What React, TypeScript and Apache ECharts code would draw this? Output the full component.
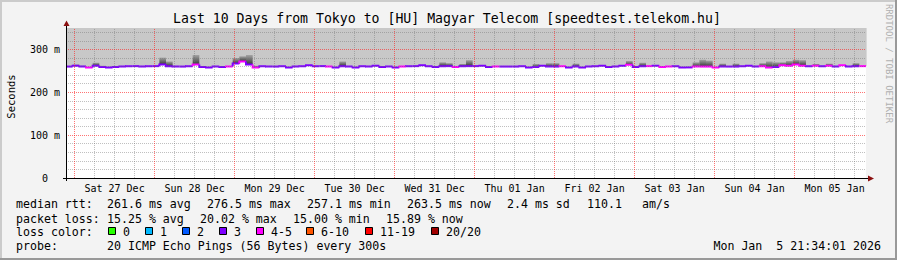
import React, { useEffect, useRef } from 'react';
import * as echarts from 'echarts';

const MONO = '"DejaVu Sans Mono", monospace';

const startHour = -(2 + 34 / 60 + 1 / 3600);
const spanHours = 240;
const bucketHours = 2;
const yMax = 350;

const dayLabels = ['Sat 27 Dec', 'Sun 28 Dec', 'Mon 29 Dec', 'Tue 30 Dec', 'Wed 31 Dec', 'Thu 01 Jan', 'Fri 02 Jan', 'Sat 03 Jan', 'Sun 04 Jan', 'Mon 05 Jan'];
const dayLabelHours = [12, 36, 60, 84, 108, 132, 156, 180, 204, 228];
const dayLineHours = [0, 24, 48, 72, 96, 120, 144, 168, 192, 216];
const yMinorLines = [20, 40, 60, 80, 120, 140, 160, 180, 220, 240, 260, 280, 320, 340];
const yMajorLines = [100, 200, 300];
const yTickValues = [0, 100, 200, 300];

const median = [
  260, 262, 260, 258, 262, 259, 258, 259, 260, 261,
  261, 260, 261, 261, 265, 261, 260, 260, 261, 265,
  259, 258, 260, 259, 260, 267, 272, 265, 258, 261,
  260, 260, 261, 258, 260, 261, 263, 261, 261, 260,
  258, 261, 260, 258, 261, 260, 262, 259, 260, 258,
  260, 261, 261, 263, 261, 259, 261, 261, 259, 261,
  261, 261, 262, 259, 260, 260, 260, 260, 261, 258,
  259, 262, 260, 260, 261, 258, 260, 258, 260, 261,
  262, 259, 260, 262, 264, 259, 261, 261, 262, 259,
  260, 261, 258, 258, 260, 260, 260, 258, 260, 260,
  260, 261, 262, 260, 261, 258, 259, 263, 262, 265,
  262, 261, 262, 261, 262, 260, 263, 260, 261, 261,
];
const smokeTop = [
  260, 265, 262, 258, 269, 262, 258, 259, 260, 261,
  261, 260, 261, 261, 281, 272, 260, 260, 261, 287,
  259, 258, 260, 259, 260, 280, 284, 287, 262, 261,
  260, 260, 261, 258, 260, 261, 263, 261, 261, 260,
  258, 272, 260, 258, 261, 260, 262, 259, 260, 258,
  260, 261, 261, 263, 261, 259, 270, 268, 259, 266,
  275, 261, 262, 259, 260, 260, 260, 260, 261, 258,
  266, 262, 268, 268, 261, 258, 267, 258, 260, 261,
  262, 259, 260, 262, 273, 259, 269, 261, 262, 259,
  260, 261, 258, 258, 270, 276, 274, 258, 267, 260,
  267, 261, 262, 260, 268, 272, 270, 270, 273, 276,
  275, 261, 266, 261, 267, 260, 263, 260, 268, 261,
];
const lost = [
  3, 3, 3, 4, 3, 3, 3, 3, 3, 3,
  3, 3, 3, 3, 3, 3, 3, 3, 3, 4,
  3, 3, 3, 3, 4, 3, 4, 3, 4, 3,
  3, 3, 3, 3, 3, 3, 3, 3, 3, 4,
  3, 3, 3, 3, 3, 3, 3, 3, 3, 3,
  4, 3, 3, 3, 3, 3, 3, 3, 4, 3,
  3, 3, 3, 3, 4, 3, 3, 3, 3, 3,
  3, 3, 3, 3, 4, 3, 3, 3, 3, 3,
  3, 3, 3, 3, 4, 3, 3, 4, 3, 4,
  4, 3, 3, 3, 4, 4, 4, 4, 3, 3,
  3, 3, 3, 3, 4, 4, 3, 4, 4, 4,
  4, 3, 4, 3, 4, 3, 4, 3, 3, 4,
];

const lossLegend = ['0', '1', '2', '3', '4-5', '6-10', '11-19', '20/20'];
const lossColors = ['#26ff00', '#00b8ff', '#0059ff', '#7e00ff', '#ff00ff', '#ff5500', '#ff0000', '#a00000'];
const lossLegendX = [108, 145, 182, 219, 256, 306, 365, 431];

const rttStats = ['261.6 ms avg', '276.5 ms max', '257.1 ms min', '263.5 ms now', '2.4 ms sd', '110.1', 'am/s'];
const rttStatsX = [107, 207, 307, 407, 507, 587, 642];
const lossStats = ['15.25 % avg', '20.02 % max', '15.00 % min', '15.89 % now'];
const lossStatsX = [107, 200, 293, 386];

function lossColor(n: number): string {
  if (n <= 0) return lossColors[0];
  if (n === 1) return lossColors[1];
  if (n === 2) return lossColors[2];
  if (n === 3) return lossColors[3];
  if (n <= 5) return lossColors[4];
  if (n <= 10) return lossColors[5];
  if (n <= 19) return lossColors[6];
  return lossColors[7];
}

function txt(text: string, x: number, y: number, size: number, opts: any = {}) {
  return {
    type: 'text',
    x,
    y,
    z: 20,
    rotation: opts.rotation || 0,
    silent: true,
    style: {
      text,
      x: 0,
      y: 0,
      fill: opts.color || '#000',
      font: `${size}px ${MONO}`,
      fontSize: size,
      fontFamily: MONO,
      align: opts.align || 'left',
      textAlign: opts.align || 'left',
      verticalAlign: 'middle',
      textVerticalAlign: 'middle',
    },
  };
}

export default function App() {
  const ref = useRef<HTMLDivElement>(null);

  useEffect(() => {
    if (!ref.current) return;
    const chart = echarts.init(ref.current, null, { renderer: 'svg' });

    const smokeData = median.map((m, i) => [startHour + i * bucketHours, m, smokeTop[i]]);
    const medianData = median.map((m, i) => [startHour + i * bucketHours, m, lost[i], i > 0 ? median[i - 1] : m]);

    const graphics: any[] = [];
    graphics.push({ type: 'rect', z: 30, silent: true, shape: { x: 0, y: 0, width: 897, height: 2 }, style: { fill: '#cbcbcb' } });
    graphics.push({ type: 'rect', z: 30, silent: true, shape: { x: 0, y: 0, width: 2, height: 260 }, style: { fill: '#cbcbcb' } });
    graphics.push({ type: 'rect', z: 30, silent: true, shape: { x: 0, y: 258, width: 897, height: 2 }, style: { fill: '#999999' } });
    graphics.push({ type: 'rect', z: 30, silent: true, shape: { x: 895, y: 0, width: 2, height: 260 }, style: { fill: '#999999' } });
    graphics.push({ type: 'line', z: 25, silent: true, shape: { x1: 66.5, y1: 181, x2: 66.5, y2: 25 }, style: { stroke: '#000', lineWidth: 1 } });
    graphics.push({ type: 'line', z: 25, silent: true, shape: { x1: 63, y1: 178.5, x2: 869, y2: 178.5 }, style: { stroke: '#000', lineWidth: 1 } });
    graphics.push({ type: 'polygon', z: 26, silent: true, shape: { points: [[63.5, 26], [69.5, 26], [66.5, 20.5]] }, style: { fill: '#8b1010' } });
    graphics.push({ type: 'polygon', z: 26, silent: true, shape: { points: [[868, 175.5], [868, 181.5], [874, 178.5]] }, style: { fill: '#8b1010' } });
    graphics.push(txt('Last 10 Days from Tokyo to [HU] Magyar Telecom [speedtest.telekom.hu]', 447, 18.5, 13.2, { align: 'center' }));
    graphics.push(txt('Seconds', 10.5, 96.5, 10.5, { align: 'center', rotation: Math.PI / 2 }));
    graphics.push(txt('RRDTOOL / TOBI OETIKER', 888.5, 63.5, 9, { align: 'center', rotation: -Math.PI / 2, color: '#b0b0b0' }));
    graphics.push(txt('median rtt:', 16, 203.5, 11.6));
    rttStats.forEach((s, i) => graphics.push(txt(s, rttStatsX[i], 203.5, 11.6)));
    graphics.push(txt('packet loss:', 16, 218.5, 11.6));
    lossStats.forEach((s, i) => graphics.push(txt(s, lossStatsX[i], 218.5, 11.6)));
    graphics.push(txt('loss color:', 16, 232, 11.6));
    lossLegend.forEach((s, i) => {
      graphics.push({
        type: 'rect', z: 20, silent: true,
        shape: { x: lossLegendX[i] + 0.5, y: 227.5, width: 7, height: 7 },
        style: { fill: lossColors[i], stroke: '#000', lineWidth: 1 },
      });
      graphics.push(txt(s, lossLegendX[i] + 15, 232, 11.6));
    });
    graphics.push(txt('probe:', 16, 246, 11.6));
    graphics.push(txt('20 ICMP Echo Pings (56 Bytes) every 300s', 107, 246, 11.6));
    graphics.push(txt('Mon Jan  5 21:34:01 2026', 881, 246, 11.6, { align: 'right' }));

    const minorColor = 'rgba(115,115,115,0.45)';
    const majorColor = 'rgba(255,30,30,0.62)';

    const sixHourLines: number[] = [];
    for (let h = 6; h < spanHours + startHour; h += 6) {
      if (h % 24 !== 0) sixHourLines.push(h);
    }
    const vPair = (h: number, color: string) => [
      { coord: [h, 0], lineStyle: { color, type: [1, 1], width: 1 } },
      { coord: [h, yMax], lineStyle: { color, type: [1, 1], width: 1 } },
    ];

    const gridSeries = (name: string, color: string, vLines: number[], hLines: number[], z: number) => ({
      type: 'line',
      name,
      z,
      silent: true,
      symbol: 'none',
      data: [[startHour, 0], [startHour + spanHours, yMax]],
      lineStyle: { width: 0, opacity: 0 },
      markLine: {
        silent: true,
        symbol: ['none', 'none'],
        label: { show: false },
        animation: false,
        lineStyle: { type: [1, 1], width: 1, color },
        data: [
          ...vLines.map((h) => vPair(h, color)),
          ...hLines.map((v) => ({ yAxis: v, lineStyle: { color, type: [1, 1], width: 1 } })),
        ],
      },
    });

    const option: any = {
      animation: false,
      backgroundColor: '#f3f3f3',
      textStyle: { fontFamily: MONO },
      grid: {
        left: 66, top: 28, width: 800, height: 150,
        show: true, backgroundColor: '#ffffff', borderWidth: 0,
        containLabel: false, outerBoundsMode: 'none',
      },
      xAxis: {
        type: 'value',
        min: startHour,
        max: startHour + spanHours,
        axisLine: { show: false },
        axisTick: { show: false },
        splitLine: { show: false },
        axisLabel: {
          customValues: dayLabelHours,
          formatter: (v: number) => {
            const idx = dayLabelHours.indexOf(Math.round(v));
            return idx >= 0 ? dayLabels[idx] : '';
          },
          fontSize: 10,
          fontFamily: MONO,
          color: '#000',
          margin: 5,
          hideOverlap: false,
        },
      },
      yAxis: {
        type: 'value',
        min: 0,
        max: yMax,
        interval: 100,
        axisLine: { show: false },
        axisTick: { show: false },
        splitLine: { show: false },
        axisLabel: {
          customValues: yTickValues,
          formatter: (v: number) => (v === 0 ? '{z|0}' : `${v} m`),
          fontSize: 10,
          fontFamily: MONO,
          color: '#000',
          margin: 6,
          rich: { z: { padding: [0, 12, 0, 0], fontSize: 10, fontFamily: MONO, color: '#000' } },
        },
      },
      series: [
        {
          type: 'custom',
          name: 'smoke',
          z: 1,
          silent: true,
          data: smokeData,
          encode: { x: 0, y: 1 },
          renderItem: (params: any, api: any) => {
            const t0 = api.value(0);
            const m = api.value(1);
            const s = api.value(2);
            const pTop = api.coord([t0, yMax]);
            const pMed = api.coord([t0 + bucketHours, m]);
            const pS = api.coord([t0, s]);
            const w = pMed[0] - pTop[0] + 0.6;
            const children: any[] = [
              { type: 'rect', shape: { x: pTop[0], y: pTop[1], width: w, height: pMed[1] - pTop[1] }, style: { fill: '#c8c8c8' } },
            ];
            if (s > m) {
              children.push({
                type: 'rect',
                shape: { x: pTop[0], y: pS[1], width: w, height: pMed[1] - pS[1] },
                style: {
                  fill: new echarts.graphic.LinearGradient(0, 1, 0, 0, [
                    { offset: 0, color: '#383838' },
                    { offset: 1, color: '#a4a4a4' },
                  ]),
                },
              });
            }
            return { type: 'group', children };
          },
        },
        gridSeries('grid-minor', minorColor, sixHourLines, yMinorLines, 2),
        gridSeries('grid-major', majorColor, dayLineHours, yMajorLines, 2),
        {
          type: 'custom',
          name: 'median',
          z: 3,
          silent: true,
          data: medianData,
          encode: { x: 0, y: 1 },
          renderItem: (params: any, api: any) => {
            const t0 = api.value(0);
            const m = api.value(1);
            const n = api.value(2);
            const prev = api.value(3);
            const a = api.coord([t0, prev]);
            const b = api.coord([t0, m]);
            const c = api.coord([t0 + bucketHours, m]);
            return {
              type: 'polyline',
              shape: { points: [a, b, c] },
              style: { stroke: lossColor(n), lineWidth: 2, fill: null },
            };
          },
        },
      ],
      graphic: { elements: graphics },
    };

    chart.setOption(option);
    return () => chart.dispose();
  }, []);

  return <div ref={ref} style={{ position: 'fixed', left: 0, top: 0, width: 897, height: 260 }} />;
}
